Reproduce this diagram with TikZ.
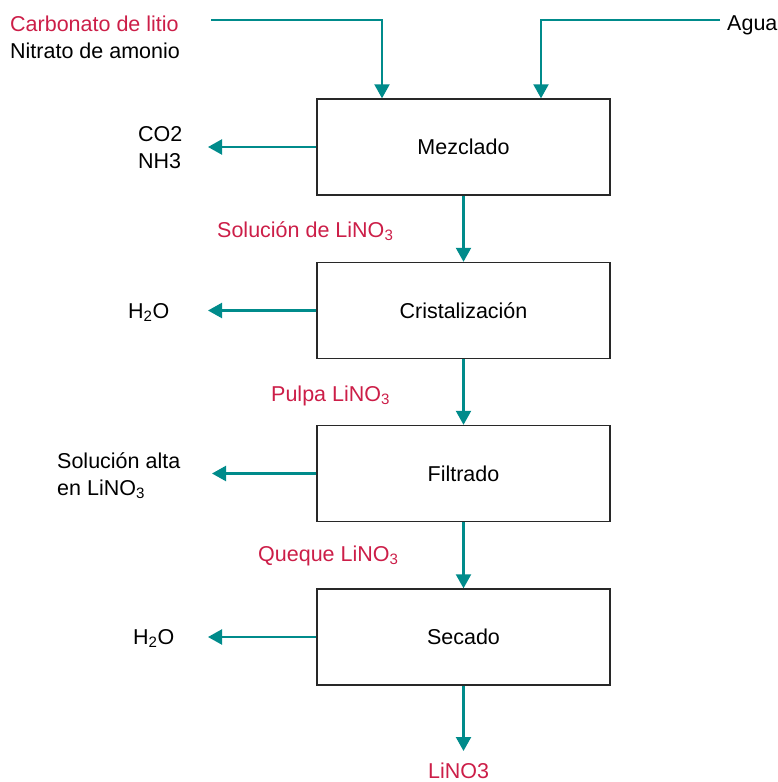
\documentclass[tikz,border=0pt]{standalone}
\usepackage{fontspec}
\setmainfont{Liberation Sans}
\usetikzlibrary{arrows.meta}
\definecolor{verde}{RGB}{0,139,139}
\definecolor{rojo}{RGB}{204,30,72}
\definecolor{borde}{RGB}{40,40,40}
\tikzset{
  proceso/.style   = {shape=rectangle, draw=borde, line width=1.4pt,
                      minimum width=293pt, minimum height=96pt},
  flujo/.style     = {draw=verde, line width=2.2pt,
                      -{Triangle[length=14pt,width=15pt]}},
  corriente/.style = {align=left, inner sep=0pt, anchor=base west},
  producto/.style  = {corriente, text=rojo},
}

\begin{document}
\begin{tikzpicture}
  [
    x                 = 1pt,
    y                 = -1pt,
    every node/.style = {font=\fontsize{21.5}{26.5}\selectfont},
  ]
  \useasboundingbox (0,0) rectangle (778,782);
  % etapas del proceso
  \node [proceso] (mezcla)  at (463.5,147)   {Mezclado};
  \node [proceso] (cristal) at (463.5,310.5) {Cristalización};
  \node [proceso] (filtro)  at (463.5,473.5) {Filtrado};
  \node [proceso] (secado)  at (463.5,637)   {Secado};
  % entradas
  \node [corriente] (reactivos) at (10,58)
    {\textcolor{rojo}{Carbonato de litio}\\[0.5pt]Nitrato de amonio};
  \node [corriente] (agua) at (727,30) {Agua};
  \coordinate (carb) at (211,20);
  \coordinate (aguain) at (720,20);
  \draw [flujo] (carb) -| ([xshift=-81.5pt]mezcla.north);
  \draw [flujo] (aguain) -| ([xshift=77.5pt]mezcla.north);
  % salidas laterales
  \node [corriente] (gases)   at (138,168) {CO2\\NH3};
  \node [corriente] (agua1)   at (128,318) {H\textsubscript{2}O};
  \node [corriente] (madre)   at (57,495)  {Solución alta\\en LiNO\textsubscript{3}};
  \node [corriente] (agua2)   at (133,644) {H\textsubscript{2}O};
  \coordinate (s1) at (208,147);
  \coordinate (s2) at (208,310.5);
  \coordinate (s3) at (212,473.5);
  \coordinate (s4) at (208,637);
  \draw [flujo] (mezcla.west)  -- (s1);
  \draw [flujo] (cristal.west) -- (s2);
  \draw [flujo] (filtro.west)  -- (s3);
  \draw [flujo] (secado.west)  -- (s4);
  % corrientes intermedias
  \node [producto] (solucion) at (217,237) {Solución de LiNO\textsubscript{3}};
  \node [producto] (pulpa)    at (271,401) {Pulpa LiNO\textsubscript{3}};
  \node [producto] (queque)   at (258,561) {Queque LiNO\textsubscript{3}};
  \draw [flujo] (mezcla.south)  -- (cristal.north);
  \draw [flujo] (cristal.south) -- (filtro.north);
  \draw [flujo] (filtro.south)  -- (secado.north);
  % producto final
  \node [producto] (final) at (428,778) {LiNO3};
  \coordinate (fin) at (463.5,751);
  \draw [flujo] (secado.south) -- (fin);
\end{tikzpicture}
\end{document}
